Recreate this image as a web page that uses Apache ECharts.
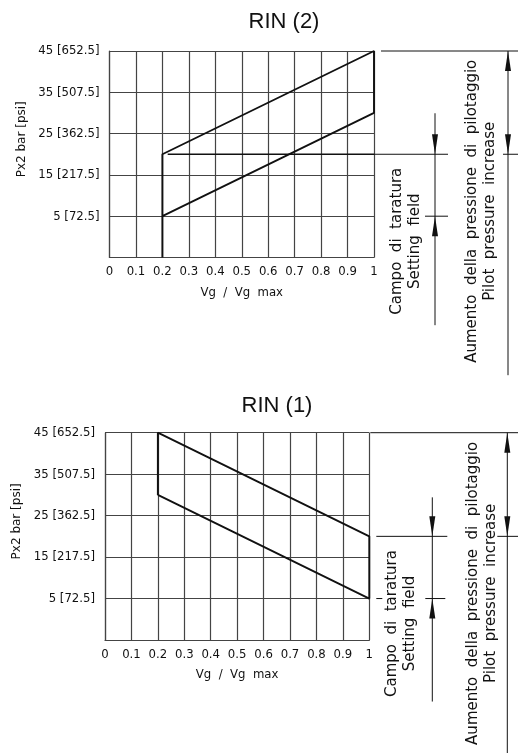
<!DOCTYPE html>
<html><head><meta charset="utf-8">
<script src="https://cdn.jsdelivr.net/npm/echarts@6/dist/echarts.min.js"></script>
<style>html,body{margin:0;padding:0;background:#fff}#c{width:518px;height:753px}</style>
</head><body><div id="c"></div>
<script>
// ---- data ----
const xTickValues = [0, 0.1, 0.2, 0.3, 0.4, 0.5, 0.6, 0.7, 0.8, 0.9, 1];
const xTickLabels = ['0', '0.1', '0.2', '0.3', '0.4', '0.5', '0.6', '0.7', '0.8', '0.9', '1'];
const yTickValues = [5, 15, 25, 35, 45];
const yTickLabels = ['5 [72.5]', '15 [217.5]', '25 [362.5]', '35 [507.5]', '45 [652.5]'];
const chartTitles = ['RIN (2)', 'RIN (1)'];
const rin2Outline = [[0.2, -5], [0.2, 20], [1, 45], [1, 30], [0.2, 5]];
const rin2SettingLine = [[0.22, 20], [1, 20]];
const rin1Outline = [[0.2, 30], [0.2, 45], [1, 20], [1, 5], [0.2, 30]];
const settingField = [5, 20];     // Campo di taratura / Setting field
const pilotIncrease = [20, 45];   // Aumento della pressione di pilotaggio
const settingText = 'Campo  di  taratura\nSetting  field';
const pilotText = 'Aumento  della  pressione  di  pilotaggio\nPilot  pressure  increase';

const TICK_FONT = '"DejaVu Sans Condensed", "DejaVu Sans", sans-serif';
const INK = '#111';
const GRIDC = '#444';

function xLabel(v) {
  const i = xTickValues.findIndex(t => Math.abs(t - v) < 1e-6);
  return i >= 0 ? xTickLabels[i] : '';
}
function yLabel(v) {
  const i = yTickValues.findIndex(t => Math.abs(t - v) < 1e-6);
  return i >= 0 ? yTickLabels[i] : '';
}

function mkX(gi) {
  return {
    type: 'value', gridIndex: gi, min: 0, max: 1, interval: 0.1,
    name: 'Vg  /  Vg  max', nameLocation: 'middle', nameGap: 28.5,
    nameTextStyle: { color: INK, fontFamily: TICK_FONT, fontSize: 13 },
    axisLine: { show: true, onZero: false, lineStyle: { color: GRIDC, width: 1.2 } },
    axisTick: { show: false },
    axisLabel: { margin: 8, color: INK, fontFamily: TICK_FONT, fontSize: 13, formatter: xLabel, showMinLabel: true, showMaxLabel: true },
    splitLine: { show: true, lineStyle: { color: GRIDC, width: 1.2 } }
  };
}
function mkY(gi) {
  return {
    type: 'value', gridIndex: gi, min: -5, max: 45, interval: 10,
    name: 'Px2 bar [psi]', nameLocation: 'middle', nameGap: 79,
    nameTextStyle: { color: INK, fontFamily: '"DejaVu Sans", sans-serif', fontSize: 12, padding: [0, 0, 0, 30] },
    axisLine: { show: true, onZero: false, lineStyle: { color: GRIDC, width: 1.2 } },
    axisTick: { show: false },
    axisLabel: { margin: 10, color: INK, fontFamily: TICK_FONT, fontSize: 13, formatter: yLabel },
    splitLine: { show: true, lineStyle: { color: GRIDC, width: 1.2 } }
  };
}

function L(x1, y1, x2, y2, w) {
  return { type: 'line', shape: { x1: x1, y1: y1, x2: x2, y2: y2 }, style: { stroke: INK, lineWidth: w || 1 } };
}
function A(x, yTip, dir) { // dir=1: pointing down, dir=-1: pointing up
  return { type: 'polygon', shape: { points: [[x, yTip], [x - 3, yTip - 20 * dir], [x + 3, yTip - 20 * dir]] }, style: { fill: INK } };
}
function T(x, y, text) {
  return {
    type: 'text', x: x, y: y, rotation: Math.PI / 2,
    style: { text: text, fill: INK, font: '15px "DejaVu Sans", sans-serif', align: 'center', verticalAlign: 'middle', textAlign: 'center', textVerticalAlign: 'middle', lineHeight: 18 }
  };
}

function mkAnnot(gi, o) {
  return {
    type: 'custom', xAxisIndex: gi, yAxisIndex: gi, clip: false, silent: true, z: 5,
    data: [[1, settingField[0]]],
    renderItem: function (params, api) {
      const R = api.coord([1, 0])[0];
      const W = api.getWidth();
      const yS0 = api.coord([1, settingField[0]])[1];
      const yS1 = api.coord([1, settingField[1]])[1];
      const yP0 = api.coord([1, pilotIncrease[0]])[1];
      const yP1 = api.coord([1, pilotIncrease[1]])[1];
      const ch = [];
      ch.push(L(R + o.setFrom, yS1, R + o.setTo, yS1));
      ch.push(L(R + o.seg2From, yP0, W, yP0));
      ch.push(L(R + o.topFrom, yP1, W, yP1));
      ch.push(L(R + o.lowFrom, yS0, R + o.lowTo, yS0));
      if (o.dash) ch.push(L(R + o.dash[0], yS0, R + o.dash[1], yS0));
      const d1 = R + o.dim1;
      ch.push(L(d1, yS1 - o.dim1Top, d1, yS0 + o.dim1Bottom));
      ch.push(A(d1, yS1, 1));
      ch.push(A(d1, yS0, -1));
      const d2 = R + o.dim2;
      ch.push(L(d2, yP1, d2, yS0 + o.dim2Bottom));
      ch.push(A(d2, yP1, -1));
      ch.push(A(d2, yP0, 1));
      ch.push(T(R + o.t1x, yS0 + 25, settingText));
      ch.push(T(R + o.t2x, yP0 + 57, pilotText));
      return { type: 'group', children: ch };
    }
  };
}

const chart = echarts.init(document.getElementById('c'), null, { renderer: 'canvas' });
chart.setOption({
  animation: false,
  backgroundColor: '#fff',
  grid: [
    { left: 109.5, top: 51, width: 264.5, height: 206.5 },
    { left: 105, top: 432.7, width: 264.3, height: 207.3 }
  ],
  xAxis: [mkX(0), mkX(1)],
  yAxis: [mkY(0), mkY(1)],
  graphic: [
    { type: 'text', x: 284, y: 22, style: { text: chartTitles[0], fill: INK, font: '22px "Liberation Sans", Arial, sans-serif', align: 'center', verticalAlign: 'middle' } },
    { type: 'text', x: 277, y: 406, style: { text: chartTitles[1], fill: INK, font: '22px "Liberation Sans", Arial, sans-serif', align: 'center', verticalAlign: 'middle' } }
  ],
  series: [
    { type: 'line', xAxisIndex: 0, yAxisIndex: 0, data: rin2Outline, showSymbol: false, lineStyle: { color: INK, width: 1.9 }, z: 4 },
    { type: 'line', xAxisIndex: 0, yAxisIndex: 0, data: rin2SettingLine, showSymbol: false, lineStyle: { color: INK, width: 1.5 }, z: 4 },
    { type: 'line', xAxisIndex: 1, yAxisIndex: 1, data: rin1Outline, showSymbol: false, lineStyle: { color: INK, width: 1.9 }, z: 4 },
    mkAnnot(0, { setFrom: 0, setTo: 74, seg2From: 129, topFrom: 7, lowFrom: 51, lowTo: 74, dim1: 61, dim1Top: 41, dim1Bottom: 109, dim2: 134, dim2Bottom: 159, t1x: 32, t2x: 107 }),
    mkAnnot(1, { setFrom: 7, setTo: 78, seg2From: 128, topFrom: 1, lowFrom: 56, lowTo: 76, dash: [7, 13], dim1: 63, dim1Top: 39, dim1Bottom: 103, dim2: 138, dim2Bottom: 160, t1x: 32, t2x: 112.5 })
  ]
});
</script>
</body></html>
